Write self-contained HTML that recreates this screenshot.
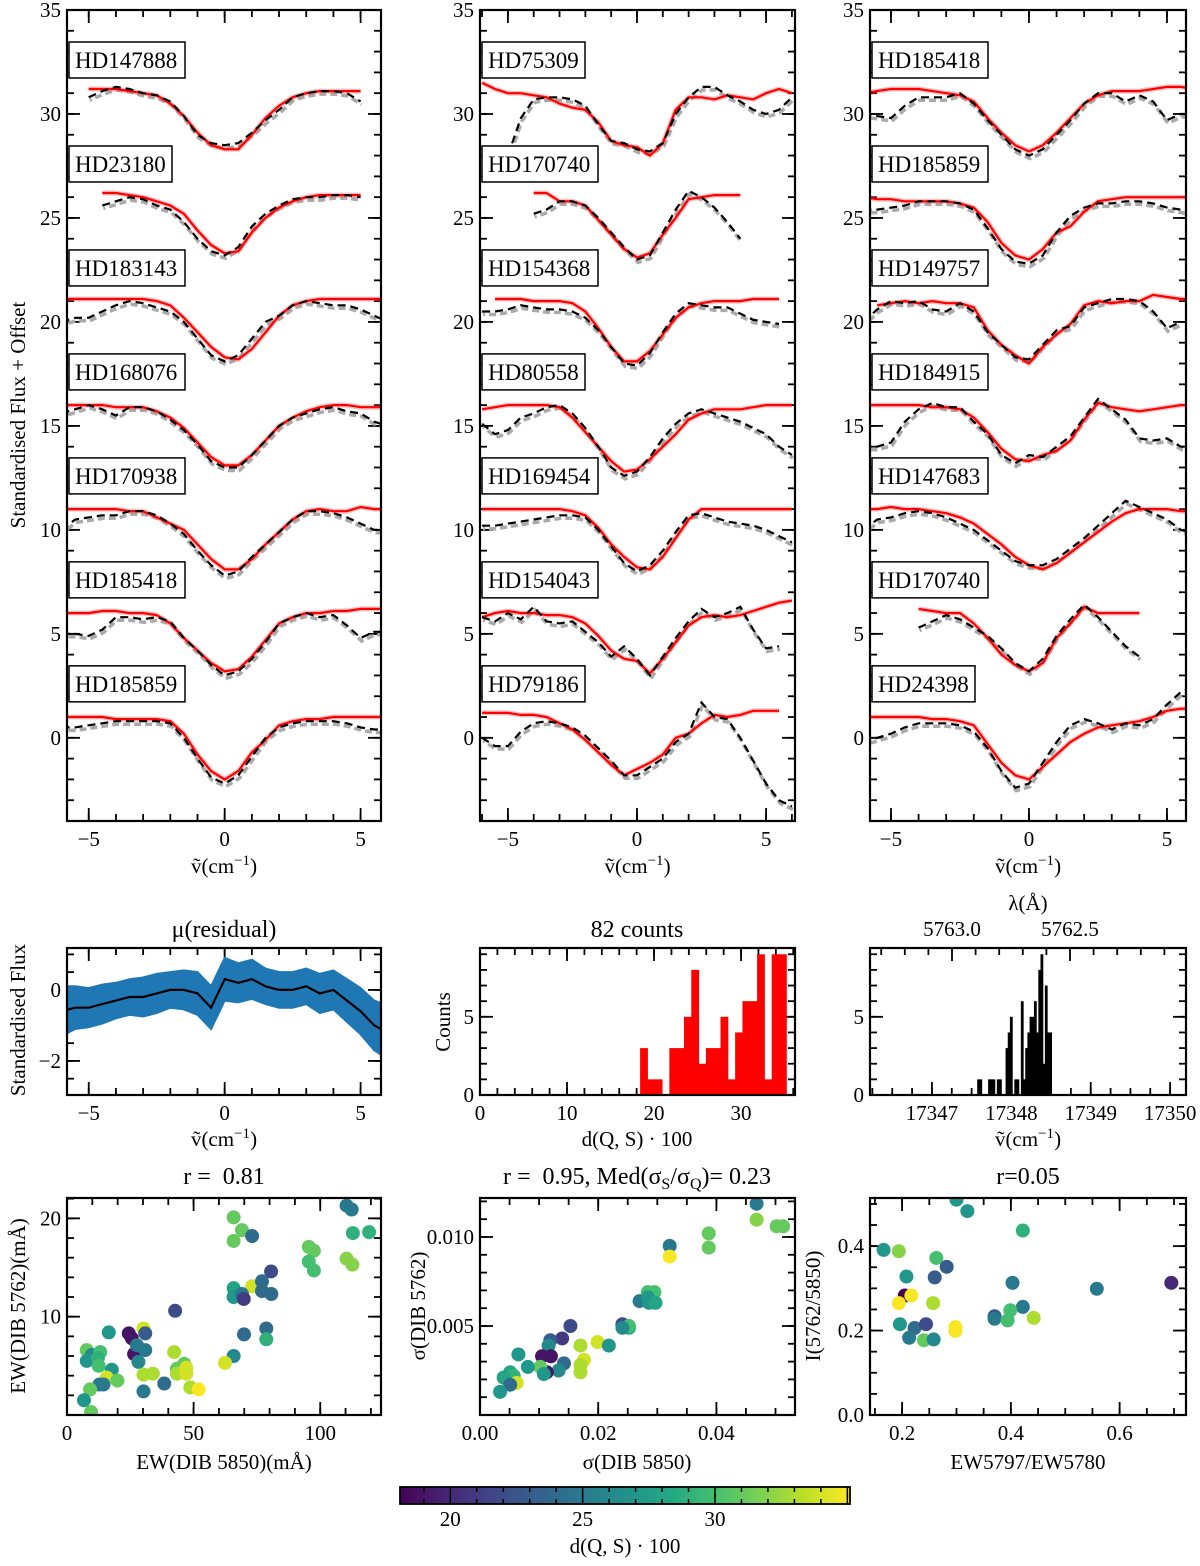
<!DOCTYPE html>
<html><head><meta charset="utf-8">
<style>
html,body{margin:0;padding:0;background:#fff;}
svg text{font-family:"Liberation Serif","DejaVu Serif",serif;fill:#000;white-space:pre;}
</style></head>
<body>
<svg id="fig" xmlns="http://www.w3.org/2000/svg" width="1200" height="1561" viewBox="0 0 1200 1561" xml:space="preserve"></svg>
<script>
// ---------- DATA ----------
const xGrid = [-6,-5.5,-5,-4.5,-4,-3.5,-3,-2.5,-2,-1.5,-1,-0.5,0,0.5,1,1.5,2,2.5,3,3.5,4,4.5,5,5.5,6];
const n = null;
const p1Names = ["HD147888","HD23180","HD183143","HD168076","HD170938","HD185418","HD185859"];
const p1Red = [
[n,n,31.2,31.2,31.2,31.1,31.0,30.9,30.5,29.9,29.1,28.5,28.3,28.3,29.0,29.8,30.4,30.8,31.0,31.1,31.1,31.1,31.1,n,n],
[n,n,n,26.2,26.2,26.1,26.0,25.8,25.6,25.2,24.4,23.7,23.3,23.4,24.3,25.0,25.5,25.8,26.0,26.1,26.1,26.1,26.1,n,n],
[21.1,21.1,21.1,21.1,21.1,21.1,21.1,21.0,20.8,20.2,19.5,18.8,18.3,18.2,18.7,19.5,20.3,20.8,21.0,21.1,21.1,21.1,21.1,21.1,21.1],
[16.0,16.0,16.0,16.0,15.9,15.9,15.9,15.7,15.4,14.9,14.2,13.5,13.1,13.1,13.6,14.3,15.0,15.4,15.7,15.9,16.0,16.0,15.9,15.9,15.9],
[11.0,11.0,11.0,11.0,11.0,10.9,10.9,10.6,10.3,10.0,9.3,8.6,8.1,8.1,8.6,9.3,9.9,10.5,10.9,11.0,10.9,10.9,11.1,11.0,11.0],
[6.0,6.0,6.0,6.1,6.1,6.0,6.0,5.9,5.5,4.8,4.2,3.6,3.2,3.3,3.9,4.7,5.5,5.8,6.0,6.0,6.1,6.1,6.2,6.2,6.2],
[1.0,1.0,1.0,1.0,0.9,0.9,0.9,0.9,0.8,0.2,-0.8,-1.6,-2.0,-1.6,-0.7,-0.1,0.6,0.8,0.9,0.9,1.0,1.0,1.0,1.0,1.0]];
const p1Black = [
[n,n,30.8,31.1,31.3,31.2,31.0,30.9,30.6,29.9,29.0,28.6,28.5,28.6,29.1,29.7,30.2,30.8,31.0,31.1,31.1,31.0,30.6,n,n],
[n,n,n,25.6,25.8,26.0,25.9,25.6,25.4,24.8,24.0,23.4,23.2,23.6,24.6,25.2,25.6,25.9,26.0,26.0,26.1,26.1,26.0,n,n],
[20.0,20.2,20.2,20.5,20.8,21.0,20.9,20.7,20.5,20.0,19.2,18.4,18.1,18.4,19.2,20.0,20.3,20.8,21.0,20.9,20.8,20.8,20.6,20.3,20.0],
[15.6,15.8,16.0,15.8,15.5,15.9,15.9,15.7,15.3,14.8,14.1,13.3,13.0,13.0,13.6,14.3,15.0,15.4,15.6,15.8,15.9,15.7,15.6,15.2,15.0],
[10.0,10.5,10.6,10.7,10.7,10.9,10.9,10.7,10.3,9.8,9.0,8.3,7.8,8.0,8.7,9.3,9.9,10.5,10.9,10.9,10.8,10.6,10.3,10.0,10.0],
[5.0,5.0,4.9,5.2,5.8,5.8,5.7,5.8,5.6,4.8,4.2,3.5,3.0,3.2,3.8,4.6,5.5,5.8,6.0,5.8,5.9,5.4,4.8,5.1,5.1],
[0.5,0.5,0.6,0.7,0.8,0.8,0.8,0.8,0.7,0.0,-1.0,-1.9,-2.2,-1.8,-0.9,0.0,0.5,0.7,0.8,0.8,0.8,0.7,0.5,0.4,0.4]];
const p2Names = ["HD75309","HD170740","HD154368","HD80558","HD169454","HD154043","HD79186"];
const p2Red = [
[31.5,31.2,31.0,31.0,30.9,30.8,30.5,30.3,30.2,29.6,28.7,28.5,28.4,28.0,28.6,30.2,30.8,30.8,30.7,30.9,30.8,30.7,31.0,31.2,31.0],
[n,n,n,n,26.2,26.2,25.8,25.8,25.6,24.9,24.2,23.5,23.1,23.3,24.2,25.0,25.9,26.0,26.1,26.1,26.1,n,n,n,n],
[n,21.1,21.1,21.1,21.0,21.0,21.0,20.9,20.5,19.7,18.8,18.1,18.1,18.6,19.4,20.2,20.7,20.9,21.0,21.0,21.0,21.1,21.1,21.1,n],
[15.8,15.9,16.0,16.0,16.0,16.0,15.9,15.4,14.7,14.0,13.3,12.8,12.9,13.4,14.0,14.6,15.3,15.6,15.8,15.8,15.8,15.9,16.0,16.0,16.0],
[11.0,11.0,11.0,11.0,11.0,11.0,11.0,10.9,10.7,10.1,9.3,8.7,8.2,8.1,8.7,9.6,10.5,11.0,11.0,11.0,11.0,11.0,11.0,11.0,11.0],
[5.8,6.0,6.1,6.0,6.0,5.9,5.9,5.8,5.5,4.9,4.2,3.8,3.7,3.1,3.8,4.6,5.4,5.8,5.9,5.8,5.9,6.1,6.3,6.5,6.6],
[1.2,1.2,1.2,1.1,1.1,1.0,0.7,0.4,-0.1,-0.7,-1.3,-1.8,-1.5,-1.2,-0.8,0.0,0.2,0.7,1.1,1.0,1.1,1.3,1.3,1.3,n]];
const p2Black = [
[n,n,28.0,29.8,30.7,30.8,30.8,30.7,30.4,29.5,28.7,28.6,28.3,28.2,28.6,30.0,30.8,31.3,31.3,30.9,30.6,30.2,30.0,30.2,30.8],
[n,n,n,n,25.2,25.4,25.8,25.8,25.6,25.0,24.3,23.6,23.0,23.2,24.3,25.4,26.3,26.0,25.5,24.8,24.0,n,n,n,n],
[20.5,20.5,20.6,20.8,20.7,20.6,20.6,20.5,20.2,19.6,18.8,18.0,17.9,18.5,19.5,20.4,20.9,20.8,20.7,20.7,20.4,20.1,20.0,19.9,n],
[15.1,14.6,14.8,15.4,15.6,15.9,16.0,15.6,14.9,14.0,13.0,12.6,12.8,13.5,14.4,15.1,15.6,15.8,15.6,15.4,15.2,14.9,14.6,14.0,13.6],
[10.2,10.2,10.3,10.4,10.5,10.6,10.7,10.7,10.6,10.0,9.2,8.4,8.0,8.3,9.0,9.9,10.7,10.8,10.6,10.4,10.3,10.2,10.0,9.7,9.4],
[5.8,5.6,6.0,5.7,6.3,5.6,5.5,5.6,5.1,4.6,3.9,4.4,3.8,3.0,3.9,4.8,5.6,6.2,5.8,6.0,6.3,5.2,4.3,4.4,n],
[0.0,-0.4,-0.4,0.3,0.7,0.8,0.7,0.5,0.1,-0.5,-1.1,-1.8,-1.8,-1.4,-1.0,-0.2,0.2,1.7,1.0,0.9,0.0,-1.1,-2.2,-3.0,-3.3]];
const p3Names = ["HD185418","HD185859","HD149757","HD184915","HD147683","HD170740","HD24398"];
const p3Red = [
[31.0,31.1,31.2,31.2,31.2,31.1,31.0,30.9,30.6,29.8,29.1,28.5,28.2,28.5,29.1,29.8,30.5,30.9,31.1,31.1,31.1,31.2,31.3,31.3,31.2],
[26.0,25.9,25.9,25.8,25.8,25.8,25.8,25.7,25.5,24.8,23.8,23.2,23.0,23.5,24.3,24.6,25.3,25.8,25.9,26.0,26.0,26.0,26.0,26.0,26.0],
[n,20.8,20.9,21.0,20.9,21.0,20.9,20.9,20.7,19.6,18.9,18.4,18.0,18.8,19.4,19.9,20.8,21.0,20.9,21.0,21.0,21.3,21.2,21.1,21.1],
[16.0,16.0,16.0,16.0,16.0,15.9,15.9,15.8,15.4,14.7,13.9,13.4,13.3,13.6,13.8,14.3,15.3,16.1,15.9,15.8,15.7,15.8,15.9,16.0,16.0],
[11.0,11.0,11.1,11.0,11.0,10.9,10.8,10.6,10.3,9.8,9.3,8.7,8.3,8.1,8.4,8.9,9.4,9.9,10.4,10.8,11.0,11.0,11.0,10.9,10.9],
[n,n,n,n,6.2,6.1,6.0,6.0,5.5,4.8,4.0,3.5,3.2,3.6,4.8,5.5,6.3,6.0,6.0,6.0,6.0,n,n,n,n],
[1.0,1.0,1.0,1.0,1.0,0.9,0.9,0.8,0.6,-0.3,-1.2,-1.8,-2.0,-1.4,-0.8,-0.2,0.2,0.5,0.6,0.7,0.8,1.0,1.3,1.4,1.4]];
const p3Black = [
[30.0,29.9,29.8,30.4,30.8,30.8,30.8,31.0,30.5,29.7,29.0,28.3,28.0,28.3,29.0,29.7,30.5,31.0,31.0,30.6,30.9,30.6,29.7,30.0,30.0],
[25.4,25.4,25.5,25.6,25.8,25.8,25.8,25.7,25.4,24.5,23.5,22.9,22.8,23.2,24.3,25.1,25.5,25.7,25.7,25.8,25.8,25.7,25.5,25.4,25.2],
[20.0,20.6,21.0,20.9,21.0,20.6,20.5,20.9,20.5,19.5,18.9,18.3,18.2,18.9,19.6,19.8,20.7,20.9,21.1,21.1,21.0,20.5,19.7,20.0,n],
[14.0,14.0,14.2,15.2,15.8,16.1,15.9,15.9,15.2,14.6,13.6,13.2,13.6,13.5,14.0,14.5,15.4,16.3,15.8,15.3,14.4,14.3,14.4,14.0,14.0],
[10.0,10.5,10.6,10.8,10.9,10.8,10.6,10.3,10.0,9.5,9.0,8.5,8.3,8.3,8.6,9.1,9.6,10.2,10.8,11.4,11.1,10.8,10.5,10.0,9.8],
[n,n,n,n,5.3,5.6,5.9,5.7,5.3,4.9,4.3,3.6,3.2,3.8,4.9,5.7,6.4,5.8,5.1,4.4,3.9,n,n,n,n],
[-0.2,0.0,0.2,0.5,0.7,0.7,0.7,0.6,0.3,-0.5,-1.6,-2.4,-2.2,-1.2,-0.2,0.6,0.9,0.7,0.4,0.7,0.6,0.9,1.6,2.2,2.5]];
const offsets = [30,25,20,15,10,5,0];

// residual panel
const resMean = [-0.6,-0.5,-0.5,-0.4,-0.3,-0.2,-0.2,-0.1,0.0,0.0,-0.1,-0.5,0.3,0.2,0.3,0.1,0.0,0.0,0.1,-0.1,0.0,-0.3,-0.6,-1.0,-1.2];
const resHalf = [0.7,0.6,0.55,0.55,0.5,0.5,0.55,0.55,0.5,0.55,0.6,0.6,0.6,0.55,0.55,0.5,0.5,0.5,0.5,0.55,0.55,0.6,0.65,0.7,0.75];

// histogram of d(Q,S)*100
const dBinStart = 18.4, dBinWidth = 0.84;
const dCounts = [3,1,1,0,3,3,5,8,2,3,3,5,1,4,6,6,9,1,9,9];
// histogram of wavenumber
const nuBinStart = 17347.57, nuBinWidth = 0.0275;
const nuCounts = [1,1,0,0,0,1,1,1,0,1,1,0,0,3,4,5,0,1,1,0,6,1,3,4,5,5,6,4,8,9,2,7,4,4];

// scatter 1: EW5850, EW5762, d
const s1x = [110.4,112.4,65.8,69.1,65.8,73.1,112.9,119.3,95.5,97.5,95.5,97.5,110.4,112.7,80.6,73.1,77.0,65.8,65.8,69.1,69.8,77.0,80.7,42.7,78.7,78.7,69.9,65.8,62.4,16.5,24.4,25.6,26.5,30.2,30.9,27.6,30.9,28.2,7.8,9.8,7.8,13.1,12.2,12.5,17.7,15.7,19.9,12.8,14.4,9.1,6.7,9.5,30.2,33.9,30.2,38.4,42.3,43.4,46.3,43.4,47.1,47.1,48.7,52.0];
const s1y = [21.3,20.9,20.1,18.8,17.7,18.2,18.5,18.6,17.1,16.7,15.6,14.7,15.9,15.3,14.6,13.1,13.6,12.9,12.0,12.3,11.8,12.6,12.3,10.6,8.8,7.7,8.2,6.0,5.3,8.4,8.3,7.8,6.2,8.8,8.3,7.1,6.6,5.4,6.6,6.1,5.5,6.4,5.8,5.0,4.6,3.8,3.5,3.1,3.1,2.6,1.5,0.3,4.1,4.2,2.4,3.2,6.4,4.7,5.2,4.2,4.8,4.2,2.8,2.6];
const s1c = [25,25,31,31,31,24,29,29,31,31,30,30,32,32,22,34,24,28,27,25,21,24,24,22,24,29,24,26,34,27,19,19,19,34,23,25,25,26,31,26,27,30,29,30,27,34,31,25,25,31,27,31,33,33,25,24,33,31,31,33,34,34,33,35];
// scatter 2: sigma5850, sigma5762, d
const s2x = [.0468,.0468,.0502,.0513,.0387,.0387,.0321,.0321,.0284,.0295,.0270,.0284,.0286,.0297,.0241,.0252,.0252,.0241,.0153,.0199,.0218,.0170,.0139,.0119,.0116,.0105,.0120,.0176,.0170,.0170,.0142,.0133,.0113,.0102,.0108,.0065,.0081,.0051,.0057,.0040,.0062,.0051,.0034];
const s2y = [.01187,.01097,.0106,.0106,.0102,.0094,.0095,.0089,.0069,.0069,.0064,.0066,.0063,.0063,.0051,.0049,.0050,.0049,.0050,.0041,.0039,.0039,.0043,.0042,.0039,.0033,.0033,.0031,.0028,.0024,.0029,.0025,.0024,.0027,.0023,.0034,.0027,.0024,.0022,.0021,.0018,.0017,.0013];
const s2c = [25,32,31,31,31,31,25,35,30,30,25,27,27,28,22,28,30,26,22,34,27,33,21,23,26,19,19,34,33,33,24,26,19,31,27,27,27,28,29,28,34,24,27];
// scatter 3: EW5797/EW5780, I(5762/5850), d
const s3x = [.300,.320,.422,.166,.194,.263,.282,.208,.260,.403,.558,.695,.205,.217,.194,.257,.422,.370,.370,.399,.394,.442,.196,.223,.244,.213,.240,.258,.298,.298];
const s3y = [.510,.483,.437,.391,.388,.372,.351,.328,.326,.313,.299,.313,.283,.283,.265,.265,.256,.234,.228,.248,.224,.230,.215,.206,.215,.183,.177,.179,.208,.199];
const s3c = [27,27,29,27,32,30,23,27,23,25,25,20,18,35,35,33,25,23,25,30,30,33,27,24,22,25,31,26,35,35];

const cmin = 18.1, cmax = 35.1;
const cbTicks = [20,25,30];

// ---------- HELPERS ----------
const NS = "http://www.w3.org/2000/svg";
const svg = document.getElementById('fig');
const TF = 21;
function mk(tag, attrs, parent){ const e=document.createElementNS(NS,tag); for(const k in attrs) e.setAttribute(k,attrs[k]); (parent||svg).appendChild(e); return e; }
function lin(d0,d1,r0,r1){ return v => r0 + (v-d0)*(r1-r0)/(d1-d0); }
const VIR = [[68,1,84],[72,36,117],[65,68,135],[53,95,141],[42,120,142],[33,145,140],[34,168,132],[68,191,112],[122,209,81],[189,223,38],[253,231,37]];
function viridis(t){ t=Math.max(0,Math.min(1,t)); const f=t*(VIR.length-1); const i=Math.min(VIR.length-2,Math.floor(f)); const u=f-i; const a=VIR[i], b=VIR[i+1]; return `rgb(${Math.round(a[0]+(b[0]-a[0])*u)},${Math.round(a[1]+(b[1]-a[1])*u)},${Math.round(a[2]+(b[2]-a[2])*u)})`; }
function ticksRange(lo,hi,step){ const out=[]; const s=Math.ceil(lo/step-1e-9); for(let k=s; k*step<=hi+1e-9; k++) out.push(+(k*step).toFixed(6)); return out; }

function axes(o){
  const g = mk('g',{});
  
  
  const sx = lin(o.xd[0],o.xd[1],o.x0,o.x1), sy = lin(o.yd[0],o.yd[1],o.y1,o.y0);
  const tg = mk('g',{stroke:'#000','stroke-width':1.8},g);
  
  
  const lo=Math.min(...o.xd), hi=Math.max(...o.xd);
  const put=(arr,len,isX)=>arr.forEach(v=>{
    if(isX){ const p=sx(v); mk('line',{x1:p,x2:p,y1:o.y1,y2:o.y1-len},tg); if(!o.noTopX) mk('line',{x1:p,x2:p,y1:o.y0,y2:o.y0+len},tg); }
    else { const p=sy(v); mk('line',{x1:o.x0,x2:o.x0+len,y1:p,y2:p},tg); mk('line',{x1:o.x1,x2:o.x1-len,y1:p,y2:p},tg); }
  });
  put(ticksRange(lo,hi,o.xMin),7,true); put(ticksRange(lo,hi,o.xMaj),13,true);
  put(ticksRange(o.yd[0],o.yd[1],o.yMin),7,false); put(ticksRange(o.yd[0],o.yd[1],o.yMaj),13,false);
  ticksRange(lo,hi,o.xMaj).forEach(v=>{ const t=mk('text',{x:sx(v),y:o.y1+25,'font-size':TF,'text-anchor':'middle'},g); t.textContent=o.xFmt?o.xFmt(v):String(v).replace('-','\u2212');   });
  ticksRange(o.yd[0],o.yd[1],o.yMaj).forEach(v=>{ const t=mk('text',{x:o.x0-6,y:sy(v)+7,'font-size':TF,'text-anchor':'end'},g); t.textContent=o.yFmt?o.yFmt(v):String(v).replace('-','\u2212');   });
  const clipId='clip-'+o.name;
  const cp=mk('clipPath',{id:clipId},g); mk('rect',{x:o.x0,y:o.y0,width:o.x1-o.x0,height:o.y1-o.y0},cp);
  const plot=mk('g',{'clip-path':`url(#${clipId})`},g);
  
  
  const fr=mk('rect',{x:o.x0,y:o.y0,width:o.x1-o.x0,height:o.y1-o.y0,fill:'none',stroke:'#000','stroke-width':2.2},g);
  
  
  return {sx,sy,plot,g,fr};
}
function pathFrom(xs,ys,sx,sy){ let d='',pen=false; xs.forEach((x,i)=>{ const y=ys[i]; if(y===null||y===undefined){pen=false;return;} d+=(pen?'L':'M')+sx(x).toFixed(1)+','+sy(y).toFixed(1); pen=true; }); return d; }
function text(str,x,y,size,anchor,name,extra){ const t=mk('text',Object.assign({x:x,y:y,'font-size':size,'text-anchor':anchor||'middle'},extra||{})); t.textContent=str;   return t; }
function nuLabel(cx,y,name){ const t=mk('text',{x:cx,y:y,'font-size':TF,'text-anchor':'middle'});   t.innerHTML='\u1e7d(cm<tspan dy="-8" font-size="15">\u22121</tspan><tspan dy="8">)</tspan>'; }

// ---------- TOP SPECTRA PANELS ----------
const panels = [
 {name:'spectra-panel-1', x0:67,x1:381, xd:[-5.8,5.75], names:p1Names, red:p1Red, black:p1Black},
 {name:'spectra-panel-2', x0:480,x1:795, xd:[-6.08,6.12], names:p2Names, red:p2Red, black:p2Black},
 {name:'spectra-panel-3', x0:870,x1:1186, xd:[-5.76,5.69], names:p3Names, red:p3Red, black:p3Black}];
panels.forEach(P=>{
  const A = axes({name:P.name,x0:P.x0,x1:P.x1,y0:10,y1:821,xd:P.xd,yd:[-4,35],xMaj:5,xMin:1,yMaj:5,yMin:1});
  P.names.forEach((nm,k)=>{
    const grey=mk('path',{d:pathFrom(xGrid,P.black[k],A.sx,A.sy),fill:'none',stroke:'#aaa','stroke-width':3.5,'stroke-dasharray':'7,4','stroke-dashoffset':5,transform:'translate(1,3)'},A.plot);
    
    
    const pink=mk('path',{d:pathFrom(xGrid,P.red[k],A.sx,A.sy),fill:'none',stroke:'rgba(255,80,80,0.35)','stroke-width':5},A.plot);
    
    
    const red=mk('path',{d:pathFrom(xGrid,P.red[k],A.sx,A.sy),fill:'none',stroke:'#f00','stroke-width':2.2},A.plot);
    
    
    const blk=mk('path',{d:pathFrom(xGrid,P.black[k],A.sx,A.sy),fill:'none',stroke:'#000','stroke-width':2.2,'stroke-dasharray':'8,5'},A.plot);
    
    
    const by = A.sy(offsets[k]+5) + 32;
    const w = nm.length*13+12;
    const box=mk('rect',{x:P.x0+2,y:by,width:w,height:36,fill:'#fff',stroke:'#000','stroke-width':1.5},A.g);
    
    
    const t=mk('text',{x:P.x0+8,y:by+26,'font-size':23,'text-anchor':'start'},A.g); t.textContent=nm;
    
    
  });
  A.g.appendChild(A.fr);
  nuLabel((P.x0+P.x1)/2, 873, P.name+'-x-title');
});
text('Standardised Flux + Offset',25,415,TF,'middle','top-y-axis-title',{transform:'rotate(-90 25 415)'});

// ---------- RESIDUAL PANEL ----------
{
  const A=axes({name:'residual-panel',x0:67,x1:381,y0:948,y1:1095,xd:[-5.8,5.75],yd:[-2.96,1.18],xMaj:5,xMin:1,yMaj:2,yMin:0.5});
  const up=xGrid.map((x,i)=>resMean[i]+resHalf[i]), dn=xGrid.map((x,i)=>resMean[i]-resHalf[i]);
  let d=pathFrom(xGrid,up,A.sx,A.sy); for(let i=xGrid.length-1;i>=0;i--) d+='L'+A.sx(xGrid[i]).toFixed(1)+','+A.sy(dn[i]).toFixed(1); d+='Z';
  const band=mk('path',{d:d,fill:'#1f77b4',stroke:'#1f77b4','stroke-width':2},A.plot);
  
  
  const ln=mk('path',{d:pathFrom(xGrid,resMean,A.sx,A.sy),fill:'none',stroke:'#000','stroke-width':2.2},A.plot);
  
  
  A.g.appendChild(A.fr);
  text('\u03bc(residual)',224,937,24,'middle','residual-title');
  text('Standardised Flux',25,1020,TF,'middle','residual-y-title',{transform:'rotate(-90 25 1020)'});
  nuLabel(224,1146,'residual-x-title');
}
// ---------- d HISTOGRAM ----------
{
  const A=axes({name:'distance-histogram',x0:480,x1:795,y0:948,y1:1095,xd:[0,36.2],yd:[0,9.4],xMaj:10,xMin:2,yMaj:5,yMin:1});
  dCounts.forEach((c,i)=>{ if(!c) return; const x0=A.sx(dBinStart+i*dBinWidth), x1=A.sx(dBinStart+(i+1)*dBinWidth);
    const r=mk('rect',{x:x0,y:A.sy(c),width:x1-x0+0.5,height:A.sy(0)-A.sy(c),fill:'#f00'},A.plot);
    
     });
  A.g.appendChild(A.fr);
  text('82 counts',637,937,24,'middle','histogram-title');
  text('Counts',450,1022,TF,'middle','histogram-y-title',{transform:'rotate(-90 450 1022)'});
  text('d(Q, S) \u00b7 100',637,1146,TF,'middle','histogram-x-title');
}
// ---------- WAVENUMBER HISTOGRAM ----------
{
  const A=axes({name:'wavenumber-histogram',x0:870,x1:1186,y0:948,y1:1095,xd:[17346.22,17350.2],yd:[0,9.4],xMaj:1,xMin:0.25,yMaj:5,yMin:1,noTopX:true,xFmt:v=>String(Math.round(v))});
  nuCounts.forEach((c,i)=>{ if(!c) return; const x0=A.sx(nuBinStart+i*nuBinWidth), x1=A.sx(nuBinStart+(i+1)*nuBinWidth);
    const r=mk('rect',{x:x0,y:A.sy(c),width:x1-x0+0.6,height:A.sy(0)-A.sy(c),fill:'#000'},A.plot);
    
     });
  A.g.appendChild(A.fr);
  const sl=lin(5763.0,5762.5,952,1070);
  const tg=mk('g',{stroke:'#000','stroke-width':1.8});
  
  
  for(let k=0;k<30;k++){ const lam=5763.3-k*0.1; const p=sl(lam); if(p<872||p>1184) continue; const major=Math.abs((lam*2)-Math.round(lam*2))<1e-6; mk('line',{x1:p,x2:p,y1:948,y2:948+(major?13:7)},tg); }
  text('5763.0',952,936,TF,'middle','wavelength-tick-label');
  text('5762.5',1070,936,TF,'middle','wavelength-tick-label');
  text('\u03bb(\u00c5)',1028,910,TF,'middle','wavelength-axis-title');
  nuLabel(1028,1146,'wavenumber-x-title');
}
// ---------- SCATTERS ----------
function scatter(A,xs,ys,cs,name){ xs.forEach((x,i)=>{ const c=mk('circle',{cx:A.sx(x),cy:A.sy(ys[i]),r:7,fill:viridis((cs[i]-cmin)/(cmax-cmin))},A.plot);
  
   }); A.g.appendChild(A.fr); }
{
  const A=axes({name:'ew-scatter',x0:67,x1:381,y0:1198,y1:1415,xd:[0,124],yd:[0,22.07],xMaj:50,xMin:10,yMaj:10,yMin:2,yFmt:v=>v===0?'':String(v)});
  scatter(A,s1x,s1y,s1c,'ew-point');
  text('r =\u00a0\u00a00.81',224,1184,24,'middle','ew-scatter-title');
  text('EW(DIB 5762)(m\u00c5)',25,1306,TF,'middle','ew-y-title',{transform:'rotate(-90 25 1306)'});
  text('EW(DIB 5850)(m\u00c5)',224,1469,TF,'middle','ew-x-title');
}
{
  const A=axes({name:'sigma-scatter',x0:480,x1:795,y0:1198,y1:1415,xd:[0,0.0533],yd:[0,0.01219],xMaj:0.02,xMin:0.005,yMaj:0.005,yMin:0.001,xFmt:v=>v.toFixed(2),yFmt:v=>v===0?'':v.toFixed(3)});
  scatter(A,s2x,s2y,s2c,'sigma-point');
  const t=text('',637,1184,24,'middle','sigma-scatter-title');
  t.innerHTML='r =\u00a0\u00a00.95, Med(\u03c3<tspan font-size="16" dy="5">S</tspan><tspan dy="-5">/\u03c3</tspan><tspan font-size="16" dy="5">Q</tspan><tspan dy="-5">)= 0.23</tspan>';
  text('\u03c3(DIB 5762)',425,1306,TF,'middle','sigma-y-title',{transform:'rotate(-90 425 1306)'});
  text('\u03c3(DIB 5850)',637,1469,TF,'middle','sigma-x-title');
}
{
  const A=axes({name:'ratio-scatter',x0:870,x1:1186,y0:1198,y1:1415,xd:[0.141,0.722],yd:[0,0.514],xMaj:0.2,xMin:0.05,yMaj:0.2,yMin:0.05,xFmt:v=>v.toFixed(1),yFmt:v=>v.toFixed(1)});
  scatter(A,s3x,s3y,s3c,'ratio-point');
  text('r=0.05',1028,1184,24,'middle','ratio-scatter-title');
  text('I(5762/5850)',820,1306,TF,'middle','ratio-y-title',{transform:'rotate(-90 820 1306)'});
  text('EW5797/EW5780',1028,1469,TF,'middle','ratio-x-title');
}
// ---------- COLORBAR ----------
{
  const defs=mk('defs',{}); const lg=mk('linearGradient',{id:'vir',x1:0,x2:1,y1:0,y2:0},defs);
  VIR.forEach((c,i)=>mk('stop',{offset:i/(VIR.length-1),'stop-color':`rgb(${c[0]},${c[1]},${c[2]})`},lg));
  const cb=mk('rect',{x:400,y:1487,width:450,height:17,fill:'url(#vir)',stroke:'#000','stroke-width':1.8});
  
  
  const sc=lin(cmin,cmax,400,850);
  const tg=mk('g',{stroke:'#000','stroke-width':1.5});
  
  
  for(let v=19; v<=35; v++){ const p=sc(v); const major=v%5===0; mk('line',{x1:p,x2:p,y1:1504,y2:1504-(major?10:5)},tg); mk('line',{x1:p,x2:p,y1:1487,y2:1487+(major?10:5)},tg); }
  cbTicks.forEach(v=>text(String(v),sc(v),1526,TF,'middle','colorbar-tick-label'));
  text('d(Q, S) \u00b7 100',625,1553,TF,'middle','colorbar-title');
}
</script>
</body></html>
